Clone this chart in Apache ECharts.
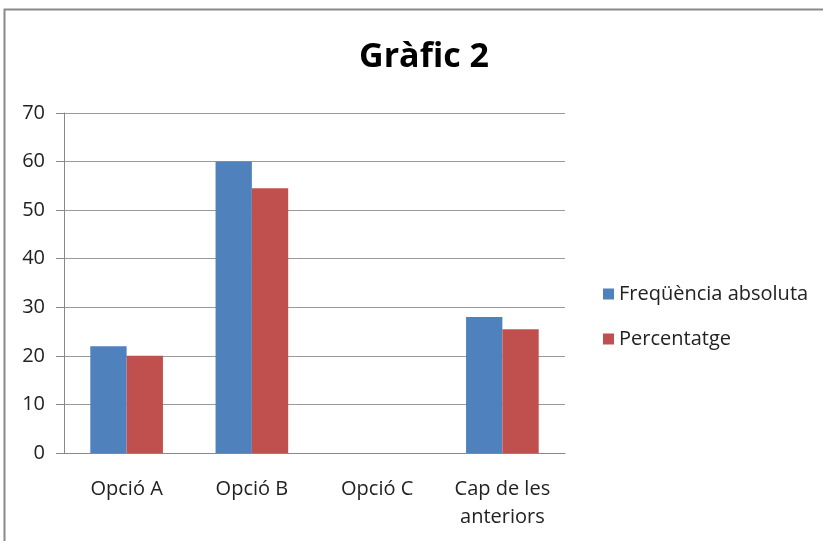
<!DOCTYPE html>
<html>
<head>
<meta charset="utf-8">
<script src="https://cdn.jsdelivr.net/npm/echarts@6/dist/echarts.min.js"></script>
<style>
html, body { margin: 0; padding: 0; background: #fff; }
#chart { width: 823px; height: 541px; }
</style>
</head>
<body>
<div id="chart"></div>
<script>
var categories = ['Opció A', 'Opció B', 'Opció C', 'Cap de les\nanteriors'];
var freqAbs = [22, 60, 0, 28];
var percentatge = [20, 54.5, 0, 25.5];
var seriesNames = ['Freqüència absoluta', 'Percentatge'];

var fontFam = '"Open Sans", "Liberation Sans", sans-serif';
var chart = echarts.init(document.getElementById('chart'));
var option = {
	animation: false,
	backgroundColor: '#fff',
	graphic: [{
		type: 'rect',
		shape: { x: 4.5, y: 9.5, width: 900, height: 700 },
		style: { fill: 'none', stroke: '#8a8a8a', lineWidth: 2 },
		silent: true
	}],
	title: {
		text: 'Gràfic 2',
		left: 419,
		top: 35,
		textAlign: 'center',
		textStyle: { fontFamily: fontFam, fontWeight: 'bold', fontSize: 34, color: '#000' }
	},
	legend: {
		orient: 'vertical',
		left: 598,
		top: 279,
		itemWidth: 11,
		itemHeight: 11,
		itemGap: 25,
		icon: 'rect',
		data: seriesNames,
		textStyle: { fontFamily: fontFam, fontSize: 20, color: '#222' }
	},
	grid: { left: 64, right: 258, top: 113, bottom: 88, containLabel: false },
	xAxis: {
		type: 'category',
		data: categories,
		axisLine: { lineStyle: { color: '#888', width: 1 } },
		axisTick: { show: false },
		axisLabel: { fontFamily: fontFam, fontSize: 20, color: '#222', margin: 22, lineHeight: 28 }
	},
	yAxis: {
		type: 'value',
		min: 0,
		max: 70,
		interval: 10,
		axisLine: { show: true, lineStyle: { color: '#888' } },
		axisTick: { show: true, length: 8, lineStyle: { color: '#888' } },
		axisLabel: { fontFamily: fontFam, fontSize: 20, color: '#222', margin: 19 },
		splitLine: { lineStyle: { color: '#9a9a9a' } }
	},
	series: [
		{
			name: seriesNames[0],
			type: 'bar',
			data: freqAbs,
			barGap: '0%',
			barCategoryGap: '42%',
			itemStyle: { color: '#4f81bd' }
		},
		{
			name: seriesNames[1],
			type: 'bar',
			data: percentatge,
			itemStyle: { color: '#c0504d' }
		}
	]
};
chart.setOption(option);
</script>
</body>
</html>
